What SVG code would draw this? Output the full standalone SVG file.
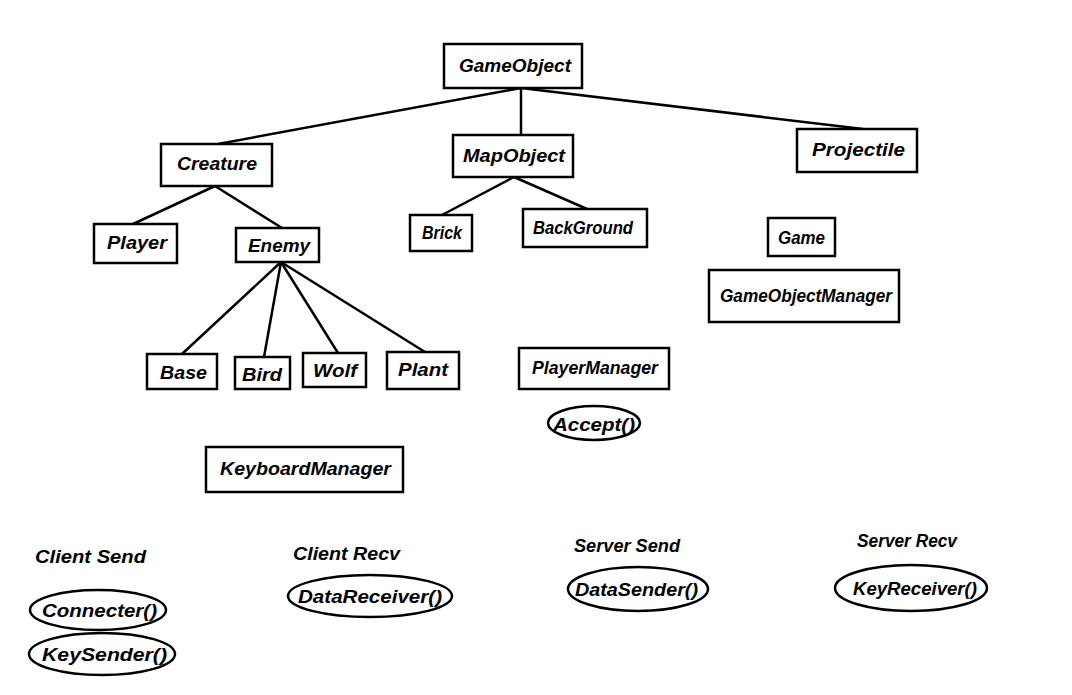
<svg xmlns="http://www.w3.org/2000/svg" width="1072" height="695" viewBox="0 0 1072 695">
<style>
.n rect, .n ellipse { fill: #fff; stroke: #000; stroke-width: 2.5; }
text { font-family: "Liberation Sans", Arial, sans-serif; font-style: italic; font-weight: bold; font-size: 19px; fill: #000; }
.c line { stroke: #000; stroke-width: 2.5; }
</style>
<rect width="1072" height="695" fill="#fff"/>
<g class="c" id="connectors">
<line x1="521" y1="88" x2="218" y2="144"/>
<line x1="521" y1="88" x2="521" y2="135"/>
<line x1="521" y1="88" x2="863" y2="129"/>
<line x1="215" y1="186" x2="133" y2="224"/>
<line x1="215" y1="186" x2="282" y2="228"/>
<line x1="514" y1="177" x2="442" y2="215"/>
<line x1="514" y1="177" x2="587" y2="209"/>
<line x1="281" y1="262" x2="182" y2="354"/>
<line x1="281" y1="262" x2="264" y2="357"/>
<line x1="281" y1="262" x2="338" y2="353"/>
<line x1="281" y1="262" x2="425" y2="352"/>
</g>
<g class="n" id="GameObject"><rect x="444" y="44" width="138" height="44"/><text x="459" y="72" textLength="112" lengthAdjust="spacingAndGlyphs">GameObject</text></g>
<g class="n" id="Creature"><rect x="161" y="144" width="111" height="42"/><text x="177" y="170" textLength="80" lengthAdjust="spacingAndGlyphs">Creature</text></g>
<g class="n" id="MapObject"><rect x="453" y="135" width="120" height="42"/><text x="463" y="162" textLength="102" lengthAdjust="spacingAndGlyphs">MapObject</text></g>
<g class="n" id="Projectile"><rect x="797" y="129" width="120" height="43"/><text x="812" y="156" textLength="93" lengthAdjust="spacingAndGlyphs">Projectile</text></g>
<g class="n" id="Player"><rect x="94" y="224" width="83" height="39"/><text x="107" y="249" textLength="60" lengthAdjust="spacingAndGlyphs">Player</text></g>
<g class="n" id="Enemy"><rect x="236" y="228" width="83" height="34"/><text x="248" y="252" textLength="62" lengthAdjust="spacingAndGlyphs">Enemy</text></g>
<g class="n" id="Base"><rect x="147" y="354" width="70" height="35"/><text x="160" y="379" textLength="47" lengthAdjust="spacingAndGlyphs">Base</text></g>
<g class="n" id="Bird"><rect x="235" y="357" width="55" height="32"/><text x="242" y="381" textLength="40" lengthAdjust="spacingAndGlyphs">Bird</text></g>
<g class="n" id="Wolf"><rect x="303" y="353" width="63" height="34"/><text x="313" y="377" textLength="44" lengthAdjust="spacingAndGlyphs">Wolf</text></g>
<g class="n" id="Plant"><rect x="387" y="352" width="72" height="37"/><text x="398" y="376" textLength="50" lengthAdjust="spacingAndGlyphs">Plant</text></g>
<g class="n" id="Brick"><rect x="410" y="215" width="62" height="36"/><text x="422" y="239" textLength="40" lengthAdjust="spacingAndGlyphs">Brick</text></g>
<g class="n" id="BackGround"><rect x="523" y="209" width="124" height="38"/><text x="533" y="234" textLength="100" lengthAdjust="spacingAndGlyphs">BackGround</text></g>
<g class="n" id="Game"><rect x="768" y="218" width="67" height="38"/><text x="778" y="244" textLength="47" lengthAdjust="spacingAndGlyphs">Game</text></g>
<g class="n" id="GameObjectManager"><rect x="709" y="270" width="190" height="52"/><text x="720" y="302" textLength="172" lengthAdjust="spacingAndGlyphs">GameObjectManager</text></g>
<g class="n" id="PlayerManager"><rect x="519" y="348" width="150" height="41"/><text x="532" y="374" textLength="126" lengthAdjust="spacingAndGlyphs">PlayerManager</text></g>
<g class="n" id="Accept"><ellipse cx="594" cy="423" rx="46" ry="17"/><text x="553" y="431" textLength="82" lengthAdjust="spacingAndGlyphs">Accept()</text></g>
<g class="n" id="KeyboardManager"><rect x="206" y="447" width="197" height="45"/><text x="220" y="475" textLength="171" lengthAdjust="spacingAndGlyphs">KeyboardManager</text></g>
<g id="ClientSend"><text x="35" y="563" textLength="111" lengthAdjust="spacingAndGlyphs">Client Send</text></g>
<g id="ClientRecv"><text x="293" y="560" textLength="107" lengthAdjust="spacingAndGlyphs">Client Recv</text></g>
<g id="ServerSend"><text x="574" y="552" textLength="106" lengthAdjust="spacingAndGlyphs">Server Send</text></g>
<g id="ServerRecv"><text x="857" y="547" textLength="100" lengthAdjust="spacingAndGlyphs">Server Recv</text></g>
<g class="n" id="Connecter"><ellipse cx="98" cy="610" rx="68" ry="20"/><text x="42" y="617" textLength="115" lengthAdjust="spacingAndGlyphs">Connecter()</text></g>
<g class="n" id="KeySender"><ellipse cx="102" cy="654" rx="73" ry="21"/><text x="42" y="661" textLength="125" lengthAdjust="spacingAndGlyphs">KeySender()</text></g>
<g class="n" id="DataReceiver"><ellipse cx="370" cy="596" rx="82" ry="21"/><text x="298" y="603" textLength="144" lengthAdjust="spacingAndGlyphs">DataReceiver()</text></g>
<g class="n" id="DataSender"><ellipse cx="638" cy="589" rx="70" ry="22"/><text x="575" y="596" textLength="123" lengthAdjust="spacingAndGlyphs">DataSender()</text></g>
<g class="n" id="KeyReceiver"><ellipse cx="911" cy="588" rx="76" ry="23"/><text x="853" y="595" textLength="124" lengthAdjust="spacingAndGlyphs">KeyReceiver()</text></g>
</svg>
